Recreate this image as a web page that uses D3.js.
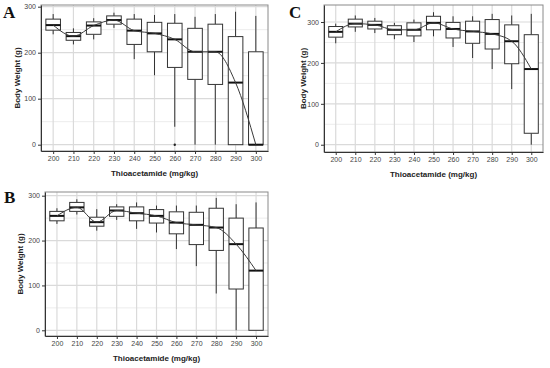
<!DOCTYPE html>
<html>
<head>
<meta charset="utf-8">
<script src="https://cdn.jsdelivr.net/npm/d3@7"></script>
<style>
  body { margin: 0; background: #fff; }
  svg { display: block; font-family: "Liberation Sans", Arial, sans-serif; }
  .tick text { fill: #444; }
</style>
</head>
<body>
<svg id="chart" width="550" height="368"></svg>
<script>
// ── Data ──────────────────────────────────────────────────────────────────────
const doses = [200, 210, 220, 230, 240, 250, 260, 270, 280, 290, 300];

// Panel A
const aLow  = [240, 218, 229, 254, 186, 151,  39,   0,   0,   0,   0];
const aQ1   = [249, 227, 240, 262, 218, 202, 168, 142, 131,   0,   0];
const aMed  = [260, 236, 259, 271, 248, 242, 229, 202, 202, 135,   0];
const aQ3   = [273, 244, 267, 280, 273, 266, 264, 253, 262, 235, 202];
const aHigh = [284, 253, 275, 287, 284, 282, 284, 278, 284, 289, 280];
const aOut  = [[260, 0]];

// Panel B
const bLow  = [237, 258, 222, 246, 226, 218, 181, 143,  82,   0,   0];
const bQ1   = [244, 265, 232, 254, 244, 239, 215, 191, 178,  92,   0];
const bMed  = [255, 274, 241, 267, 261, 255, 240, 235, 229, 192, 133];
const bQ3   = [265, 285, 252, 275, 275, 269, 264, 263, 272, 250, 228];
const bHigh = [272, 292, 270, 281, 285, 278, 278, 278, 295, 281, 285];

// Panel C
const cLow  = [248, 276, 273, 258, 251, 265, 239, 212, 185, 136,   0];
const cQ1   = [263, 288, 283, 269, 266, 281, 261, 248, 234, 198,  28];
const cMed  = [276, 296, 293, 281, 281, 298, 283, 277, 271, 253, 185];
const cQ3   = [289, 307, 302, 291, 298, 314, 299, 302, 306, 293, 269];
const cHigh = [296, 316, 310, 298, 306, 324, 314, 314, 320, 316, 320];

const yTicks = [0, 100, 200, 300];
const yMinor = [50, 150, 250];

// ── Panels ────────────────────────────────────────────────────────────────────
const panels = [
  { tag: "A", left: 41,  right: 268, top: 5,   bottom: 151, ymin: -13.7, ymax: 303.7,
    low: aLow, q1: aQ1, med: aMed, q3: aQ3, high: aHigh, out: aOut,
    tagX: 3, tagY: 18, yTitleX: 17 },
  { tag: "B", left: 45,  right: 268, top: 192, bottom: 336, ymin: -12.7, ymax: 308.2,
    low: bLow, q1: bQ1, med: bMed, q3: bQ3, high: bHigh, out: [],
    tagX: 4, tagY: 203, yTitleX: 20 },
  { tag: "C", left: 324, right: 543, top: 5,   bottom: 152, ymin: -17.8, ymax: 341.6,
    low: cLow, q1: cQ1, med: cMed, q3: cQ3, high: cHigh, out: [],
    tagX: 289, tagY: 18, yTitleX: 303 }
];

const svg = d3.select("#chart");

panels.forEach(p => {
  const x = d3.scalePoint().domain(doses).range([p.left, p.right]).padding(0.6);
  const y = d3.scaleLinear().domain([p.ymin, p.ymax]).range([p.bottom, p.top]);
  const bw = x.step() * 0.72;
  const g = svg.append("g");

  // grid
  g.append("g").selectAll("line").data(yMinor).join("line")
    .attr("x1", p.left).attr("x2", p.right)
    .attr("y1", d => y(d)).attr("y2", d => y(d))
    .attr("stroke", "#ececec").attr("stroke-width", 1);
  g.append("g").selectAll("line").data(yTicks).join("line")
    .attr("x1", p.left).attr("x2", p.right)
    .attr("y1", d => y(d)).attr("y2", d => y(d))
    .attr("stroke", "#dadada").attr("stroke-width", 1.2);
  g.append("g").selectAll("line").data(doses).join("line")
    .attr("x1", d => x(d)).attr("x2", d => x(d))
    .attr("y1", p.top).attr("y2", p.bottom)
    .attr("stroke", "#dadada").attr("stroke-width", 1.2);

  // panel border (top/right grey)
  g.append("rect")
    .attr("x", p.left).attr("y", p.top)
    .attr("width", p.right - p.left).attr("height", p.bottom - p.top)
    .attr("fill", "none").attr("stroke", "#8a8a8a").attr("stroke-width", 1);

  // boxes
  const rows = doses.map((d, i) => ({ d, low: p.low[i], q1: p.q1[i], med: p.med[i], q3: p.q3[i], high: p.high[i] }));
  const box = g.append("g").selectAll("g").data(rows).join("g");

  box.append("line")
    .attr("x1", d => x(d.d)).attr("x2", d => x(d.d))
    .attr("y1", d => y(d.high)).attr("y2", d => y(d.q3))
    .attr("stroke", "#333").attr("stroke-width", 1);
  box.append("line")
    .attr("x1", d => x(d.d)).attr("x2", d => x(d.d))
    .attr("y1", d => y(d.q1)).attr("y2", d => y(d.low))
    .attr("stroke", "#333").attr("stroke-width", 1);
  box.append("rect")
    .attr("x", d => x(d.d) - bw / 2).attr("width", bw)
    .attr("y", d => y(d.q3)).attr("height", d => Math.max(0, y(d.q1) - y(d.q3)))
    .attr("fill", "#fff").attr("stroke", "#333").attr("stroke-width", 1);
  box.append("line")
    .attr("x1", d => x(d.d) - bw / 2).attr("x2", d => x(d.d) + bw / 2)
    .attr("y1", d => y(d.med)).attr("y2", d => y(d.med))
    .attr("stroke", "#111").attr("stroke-width", 2);

  g.append("g").selectAll("circle").data(p.out).join("circle")
    .attr("cx", d => x(d[0])).attr("cy", d => y(d[1])).attr("r", 1.2)
    .attr("fill", "#222");

  // trend through medians
  g.append("path")
    .datum(rows)
    .attr("fill", "none").attr("stroke", "#3a3a3a").attr("stroke-width", 1)
    .attr("d", d3.line().x(d => x(d.d)).y(d => y(d.med)).curve(d3.curveMonotoneX));

  // axes
  const ax = g.append("g").attr("transform", `translate(0,${p.bottom})`)
    .call(d3.axisBottom(x).tickSize(3).tickPadding(2).tickSizeOuter(0));
  ax.select(".domain").attr("stroke", "#333");
  ax.selectAll(".tick line").attr("stroke", "#333");
  ax.selectAll(".tick text").attr("font-size", 7);

  const ay = g.append("g").attr("transform", `translate(${p.left},0)`)
    .call(d3.axisLeft(y).tickValues(yTicks).tickSize(3).tickPadding(2).tickSizeOuter(0));
  ay.select(".domain").attr("stroke", "#333");
  ay.selectAll(".tick line").attr("stroke", "#333");
  ay.selectAll(".tick text").attr("font-size", 7);

  // titles
  g.append("text")
    .attr("x", (p.left + p.right) / 2).attr("y", p.bottom + 25)
    .attr("text-anchor", "middle").attr("font-size", 8).attr("font-weight", "bold")
    .attr("fill", "#222")
    .text("Thioacetamide (mg/kg)");
  g.append("text")
    .attr("transform", `translate(${p.yTitleX},${(p.top + p.bottom) / 2}) rotate(-90)`)
    .attr("text-anchor", "middle").attr("dy", "0.35em")
    .attr("font-size", 8).attr("font-weight", "bold").attr("fill", "#222")
    .text("Body Weight (g)");

  svg.append("text")
    .attr("x", p.tagX).attr("y", p.tagY)
    .attr("font-family", "'Liberation Serif', 'Times New Roman', serif")
    .attr("font-size", 17).attr("font-weight", "bold").attr("fill", "#111")
    .text(p.tag);
});
</script>
</body>
</html>
